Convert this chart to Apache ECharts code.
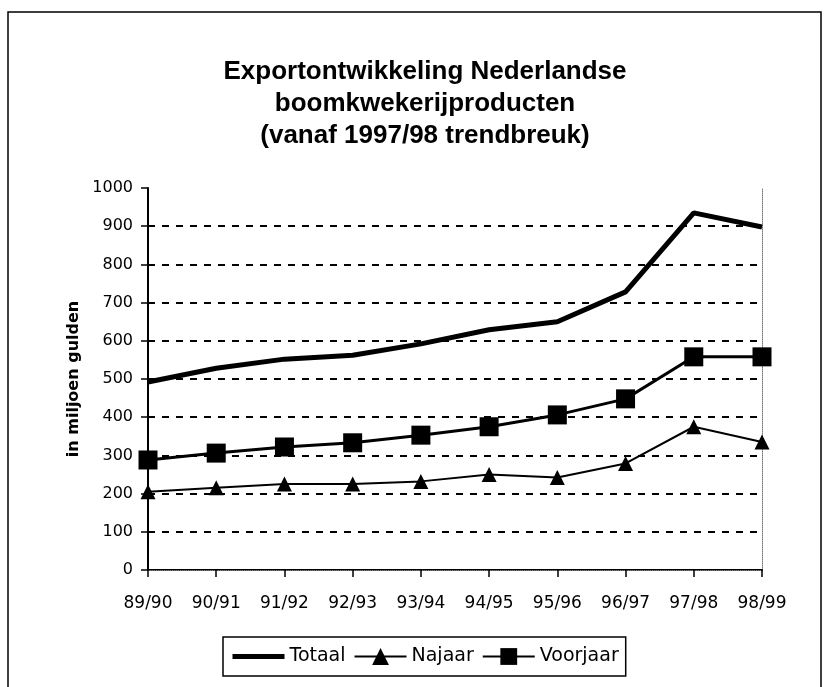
<!DOCTYPE html>
<html>
<head>
<meta charset="utf-8">
<script src="https://cdn.jsdelivr.net/npm/echarts@6/dist/echarts.min.js"></script>
<style>
  html, body { margin: 0; padding: 0; background: #fff; }
  #chart { width: 827px; height: 687px; }
</style>
</head>
<body>
<div id="chart"></div>
<script>
  // seizoenen
  var seasons = ['89/90', '90/91', '91/92', '92/93', '93/94', '94/95', '95/96', '96/97', '97/98', '98/99']
  // export in miljoen gulden
  var totaal = [492, 528, 552, 562, 592, 629, 650, 728, 935, 898]
  var najaar = [205, 215, 225, 225, 232, 250, 242, 279, 375, 335]
  var voorjaar = [288, 306, 322, 333, 353, 375, 406, 448, 558, 558]

  var titleFont = '"Liberation Sans", Arial, sans-serif'
  var font = '"DejaVu Sans", sans-serif'
  var chart = echarts.init(document.getElementById('chart'))

  chart.setOption({
    animation: false,
    backgroundColor: '#fff',
    title: {
      text: 'Exportontwikkeling Nederlandse\nboomkwekerijproducten\n(vanaf 1997/98 trendbreuk)',
      left: 425,
      top: 56,
      padding: 0,
      textAlign: 'center',
      textStyle: {
        fontFamily: titleFont,
        fontSize: 26,
        fontWeight: 'bold',
        color: '#000',
        lineHeight: 32
      }
    },
    graphic: [{
      type: 'rect',
      shape: {x: 8, y: 12, width: 813, height: 700},
      style: {fill: 'none', stroke: '#000', lineWidth: 1.5},
      silent: true
    }],
    legend: {
      left: 223,
      top: 637,
      orient: 'horizontal',
      itemWidth: 52,
      itemHeight: 21,
      itemGap: 8,
      padding: [10, 7],
      borderColor: '#000',
      borderWidth: 1.5,
      textStyle: {fontFamily: font, fontSize: 19, color: '#000'},
      data: [
        {name: 'Totaal', itemStyle: {color: 'rgba(0,0,0,0)', borderWidth: 0}, lineStyle: {color: '#000', width: 5}},
        'Najaar',
        'Voorjaar'
      ]
    },
    grid: {
      left: 148,
      right: 65,
      top: 188,
      bottom: 117,
      outerBoundsMode: 'none'
    },
    xAxis: [{
      type: 'category',
      data: seasons,
      boundaryGap: false,
      axisLine: {show: true, lineStyle: {color: '#000', width: 2}},
      axisTick: {show: true, length: 7, lineStyle: {color: '#000', width: 1.5}},
      axisLabel: {fontFamily: font, fontSize: 17, color: '#000', margin: 25, interval: 0},
      splitLine: {show: false}
    }, {
      type: 'category',
      data: seasons,
      position: 'top',
      boundaryGap: false,
      axisLine: {show: true, lineStyle: {color: '#777', width: 1, type: 'dotted'}},
      axisTick: {show: false},
      axisLabel: {show: false},
      splitLine: {show: false}
    }],
    yAxis: [{
      type: 'value',
      min: 0,
      max: 1000,
      interval: 100,
      name: 'in miljoen gulden',
      nameLocation: 'middle',
      nameGap: 52,
      nameTextStyle: {fontFamily: font, fontSize: 16, fontWeight: 'bold', color: '#000'},
      axisLine: {show: true, lineStyle: {color: '#000', width: 2}},
      axisTick: {show: true, length: 7, lineStyle: {color: '#000', width: 1.5}},
      axisLabel: {
        fontFamily: font, fontSize: 16, color: '#000', margin: 15,
        formatter: function (v) { return String(v) }
      },
      splitLine: {
        show: true,
        showMinLine: false,
        showMaxLine: false,
        lineStyle: {color: '#000', width: 2, type: [7, 7]}
      }
    }, {
      type: 'value',
      min: 0,
      max: 1000,
      interval: 100,
      position: 'right',
      axisLine: {show: true, lineStyle: {color: '#777', width: 1, type: 'dotted'}},
      axisTick: {show: false},
      axisLabel: {show: false},
      splitLine: {show: false}
    }],
    series: [{
      name: 'Totaal',
      type: 'line',
      data: totaal,
      symbol: 'none',
      lineStyle: {color: '#000', width: 5},
      itemStyle: {color: '#000'}
    }, {
      name: 'Najaar',
      type: 'line',
      data: najaar,
      symbol: 'triangle',
      symbolSize: 15,
      lineStyle: {color: '#000', width: 2},
      itemStyle: {color: '#000'}
    }, {
      name: 'Voorjaar',
      type: 'line',
      data: voorjaar,
      symbol: 'rect',
      symbolSize: 19,
      lineStyle: {color: '#000', width: 3},
      itemStyle: {color: '#000'}
    }]
  })
</script>
</body>
</html>
